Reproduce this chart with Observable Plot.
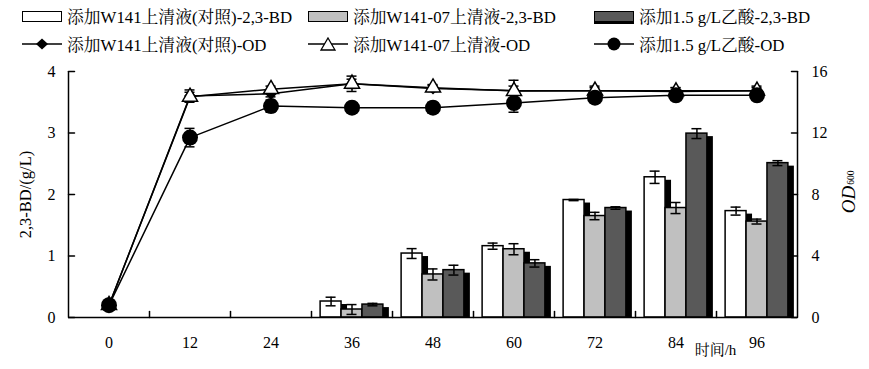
<!DOCTYPE html>
<html><head><meta charset="utf-8">
<script src="https://cdn.jsdelivr.net/npm/d3@7"></script>
<script src="https://cdn.jsdelivr.net/npm/@observablehq/plot@0.6"></script>
<style>
body{margin:0;background:#fff;width:869px;height:369px;overflow:hidden;font-family:"Liberation Serif","Noto Serif CJK SC","Noto Sans CJK SC",serif;color:#000}
#legend{position:relative;height:62px;font-size:16.8px}
.item{position:absolute;display:flex;align-items:center;white-space:nowrap;height:20px}
.sw{width:38px;height:9px;border:1.5px solid #000;margin-right:5px;box-sizing:content-box}
.item svg{margin-right:5px}
#chart svg{display:block;font-family:"Liberation Serif","Noto Serif CJK SC","Noto Sans CJK SC",serif}
</style></head><body>
<div id="legend"></div>
<div id="chart"></div>
<script>
// ---- data ----
const times = [0, 12, 24, 36, 48, 60, 72, 84, 96];
const bdNames = ["添加W141上清液(对照)-2,3-BD", "添加W141-07上清液-2,3-BD", "添加1.5 g/L乙酸-2,3-BD"];
const odNames = ["添加W141上清液(对照)-OD", "添加W141-07上清液-OD", "添加1.5 g/L乙酸-OD"];
const bdCtrl    = [0, 0, 0, 0.26, 1.04, 1.16, 1.91, 2.28, 1.73];
const bdW07     = [0, 0, 0, 0.13, 0.70, 1.11, 1.65, 1.78, 1.56];
const bdAcid    = [0, 0, 0, 0.21, 0.77, 0.88, 1.78, 2.99, 2.51];
const bdCtrlErr = [0, 0, 0, 0.07, 0.08, 0.05, 0.01, 0.10, 0.065];
const bdW07Err  = [0, 0, 0, 0.08, 0.09, 0.09, 0.06, 0.09, 0.04];
const bdAcidErr = [0, 0, 0, 0.02, 0.08, 0.06, 0.02, 0.08, 0.04];
const odCtrl    = [0.8, 14.4, 14.55, 15.2, 14.9, 14.75, 14.75, 14.75, 14.75];
const odW07     = [0.8, 14.35, 14.85, 15.2, 14.95, 14.73, 14.75, 14.7, 14.75];
const odAcid    = [0.8, 11.7, 13.75, 13.65, 13.65, 13.95, 14.3, 14.45, 14.45];
const odCtrlErr = [0, 0.4, 0.2, 0.3, 0.2, 0.3, 0.2, 0.2, 0.2];
const odW07Err  = [0, 0.3, 0.2, 0.5, 0.2, 0.7, 0.3, 0.25, 0.3];
const odAcidErr = [0.1, 0.6, 0.4, 0.2, 0.35, 0.6, 0.2, 0.2, 0.2];
const leftTicks = [0, 1, 2, 3, 4];
const rightTicks = [0, 4, 8, 12, 16];
const barFills = ["#ffffff", "#c0c0c0", "#595959"];

// ---- derived tables ----
const barW = 3.1;
const bdVals = [bdCtrl, bdW07, bdAcid], bdErrs = [bdCtrlErr, bdW07Err, bdAcidErr];
const bars = [];
bdVals.forEach((vals, s) => vals.forEach((v, i) => {
  if (v > 0) bars.push({t: times[i], s, v, e: bdErrs[s][i],
    x1: times[i] + (s - 1.5) * barW, x2: times[i] + (s - 0.5) * barW, xc: times[i] + (s - 1) * barW});
}));
const barCaps = bars.flatMap(d => [{x: d.xc, y: d.v - d.e}, {x: d.xc, y: d.v + d.e}]);
const odVals = [odCtrl, odW07, odAcid], odErrs = [odCtrlErr, odW07Err, odAcidErr];
const odRows = [];
odVals.forEach((vals, s) => vals.forEach((v, i) => odRows.push({t: times[i], s, v: v / 4, e: odErrs[s][i] / 4})));
const odErrRows = odRows.filter(d => d.e > 0);
const odCaps = odErrRows.flatMap(d => [{x: d.t, y: d.v - d.e}, {x: d.t, y: d.v + d.e}]);
const bounds = times.slice(1).map(t => t - 6);
const tickShape = {draw(ctx, l) { ctx.moveTo(0, 0); ctx.lineTo(0, -l); }};

// ---- legend ----
const legend = document.getElementById("legend");
const cols = [22, 308, 594];
bdNames.forEach((n, i) => {
  const el = document.createElement("div");
  el.className = "item";
  el.style.left = cols[i] + "px"; el.style.top = "6px";
  el.innerHTML = `<div class="sw" style="background:${barFills[i]};${i===2?'box-shadow:0 2px 0 #000;':''}"></div><span>${n}</span>`;
  legend.appendChild(el);
});
const markerSvg = [
  `<path d="M20,1.5L26,7L20,12.5L14,7Z" fill="#000"/>`,
  `<path d="M20,1L27,13L13,13Z" fill="#fff" stroke="#000" stroke-width="1.3"/>`,
  `<circle cx="20" cy="7" r="6.5" fill="#000"/>`
];
odNames.forEach((n, i) => {
  const el = document.createElement("div");
  el.className = "item";
  el.style.left = cols[i] + "px"; el.style.top = "34px";
  el.innerHTML = `<svg width="40" height="14"><line x1="0" x2="40" y1="7" y2="7" stroke="#000" stroke-width="1.5"/>${markerSvg[i]}</svg><span>${n}</span>`;
  legend.appendChild(el);
});

// ---- chart ----
const chart = Plot.plot({
  width: 869, height: 307,
  marginLeft: 68, marginRight: 72, marginTop: 9, marginBottom: 52,
  style: {fontSize: "16px", color: "#000", background: "#fff"},
  x: {type: "linear", domain: [-6, 102]},
  y: {domain: [0, 4]},
  color: {type: "identity"},
  marks: [
    // bar shadows then bars
    Plot.rect(bars, {x1: "x1", x2: "x2", y1: 0, y2: "v", fill: "#000", dx: 6, insetTop: 3}),
    Plot.rect(bars, {x1: "x1", x2: "x2", y1: 0, y2: "v", fill: d => barFills[d.s], stroke: "#000", strokeWidth: 1.5}),
    Plot.ruleX(bars, {x: "xc", y1: d => d.v - d.e, y2: d => d.v + d.e, strokeWidth: 1.5}),
    Plot.ruleY(barCaps, {x1: "x", x2: "x", y: "y", insetLeft: -5, insetRight: -5, strokeWidth: 1.5}),
    // OD lines
    Plot.line(odRows, {x: "t", y: "v", z: "s", stroke: "#000", strokeWidth: 1.5}),
    Plot.ruleX(odErrRows, {x: "t", y1: d => d.v - d.e, y2: d => d.v + d.e, strokeWidth: 1.5}),
    Plot.ruleY(odCaps, {x1: "x", x2: "x", y: "y", insetLeft: -5, insetRight: -5, strokeWidth: 1.5}),
    Plot.dot(odRows.filter(d => d.s === 0), {x: "t", y: "v", symbol: "diamond2", r: 5.4, fill: "#000", stroke: "none"}),
    Plot.dot(odRows.filter(d => d.s === 1), {x: "t", y: "v", symbol: "triangle", r: 5.6, fill: "#fff", stroke: "#000", strokeWidth: 1.5}),
    Plot.dot(odRows.filter(d => d.s === 2), {x: "t", y: "v", symbol: "circle", r: 8, fill: "#000", stroke: "none"}),
    // axes
    Plot.ruleX([-6, 102], {stroke: "#000", strokeWidth: 1.5}),
    Plot.ruleY([0], {stroke: "#000", strokeWidth: 1.5}),
    Plot.vector(bounds, {x: d => d, frameAnchor: "bottom", rotate: 0, length: 6, anchor: "start", shape: tickShape, stroke: "#000", strokeWidth: 1.5}),
    Plot.vector(leftTicks, {y: d => d, frameAnchor: "left", rotate: 90, length: 6, anchor: "start", shape: tickShape, stroke: "#000", strokeWidth: 1.5}),
    Plot.vector(leftTicks, {y: d => d, frameAnchor: "right", rotate: -90, length: 6, anchor: "start", shape: tickShape, stroke: "#000", strokeWidth: 1.5}),
    Plot.axisX(times, {tickSize: 0, tickPadding: 19, label: null, fontSize: 16}),
    Plot.axisY(leftTicks, {anchor: "left", tickSize: 0, tickPadding: 13, label: null, fontSize: 16, tickFormat: d => String(d)}),
    Plot.axisY(leftTicks, {anchor: "right", tickSize: 0, tickPadding: 14, label: null, fontSize: 16, tickFormat: (d, i) => String(rightTicks[i])}),
    // titles
    Plot.text(["2,3-BD/(g/L)"], {frameAnchor: "left", textAnchor: "middle", dx: -43, dy: 0, rotate: -90, fontSize: 16.5}),
    Plot.text(["OD"], {frameAnchor: "right", textAnchor: "middle", dx: 51, dy: 5, rotate: -90, fontSize: 19, fontStyle: "italic"}),
    Plot.text(["600"], {frameAnchor: "right", textAnchor: "middle", dx: 53, dy: -17, rotate: -90, fontSize: 9.5}),
    Plot.text(["时间/h"], {frameAnchor: "bottom-right", textAnchor: "middle", dx: -82, dy: 37, fontSize: 15})
  ]
});
document.getElementById("chart").appendChild(chart);
</script>
</body></html>
